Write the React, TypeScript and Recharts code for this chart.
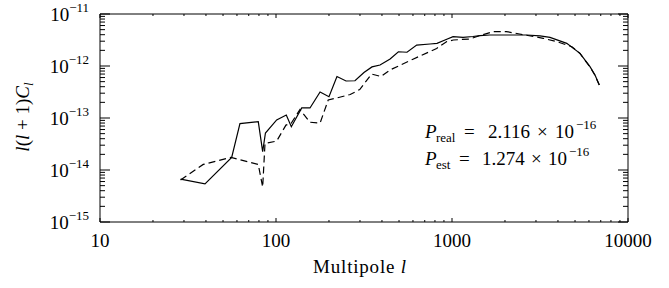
import React from "react";
import { LineChart, Line, XAxis, YAxis } from "recharts";

const solidL = [28.7, 39.5, 56, 62.4, 79.3, 84, 87.1, 100.9, 114.4, 122.2, 140, 156, 178, 200, 222, 250, 281, 316, 351, 390, 445, 496, 555, 630, 750, 822, 912, 1014, 1155, 1315, 1442, 1643, 2137, 2656, 3162, 3605, 4487, 5335, 6081, 6494, 6870];
const solidC = [6.7e-15, 5.4e-15, 1.75e-14, 7.8e-14, 8.5e-14, 2.25e-14, 5.15e-14, 9.2e-14, 1.14e-13, 6.8e-14, 1.56e-13, 1.56e-13, 3.16e-13, 2.57e-13, 6.28e-13, 5.15e-13, 5.2e-13, 7.5e-13, 9.6e-13, 1.045e-12, 1.36e-12, 1.88e-12, 1.84e-12, 2.53e-12, 2.65e-12, 2.73e-12, 3.16e-12, 3.66e-12, 3.56e-12, 3.69e-12, 3.83e-12, 3.95e-12, 3.95e-12, 3.95e-12, 3.78e-12, 3.56e-12, 2.73e-12, 1.75e-12, 9.7e-13, 6.7e-13, 4.3e-13];

const dashedL = [28.7, 38.6, 55.5, 79.3, 84, 86.6, 100.9, 113.9, 122, 136.8, 156, 178, 198, 222, 264, 299, 349, 395, 445, 600, 818, 935, 1018, 1262, 1442, 1720, 2035, 2420, 3300, 3950, 4800, 5335, 6081, 6494, 6870];
const dashedC = [6.4e-15, 1.28e-14, 1.75e-14, 1.28e-14, 4.7e-15, 3.26e-14, 3.6e-14, 7.3e-14, 7.9e-14, 1.46e-13, 8.3e-14, 8.0e-14, 2.22e-13, 2.43e-13, 2.83e-13, 3.53e-13, 7.0e-13, 6.28e-13, 8.4e-13, 1.35e-12, 2.17e-12, 2.96e-12, 3.16e-12, 3.31e-12, 3.86e-12, 4.57e-12, 4.6e-12, 4.12e-12, 3.41e-12, 2.93e-12, 2.35e-12, 1.74e-12, 9.6e-13, 6.6e-13, 4.3e-13];

const xMajor = [10, 100, 1000, 10000];
const yMajorExp = [-15, -14, -13, -12, -11];

const FONT = "'Liberation Serif', 'Times New Roman', serif";

// minor ticks 2..9 in each decade
const xTicks: number[] = [];
xMajor.forEach((m, i) => {
  xTicks.push(m);
  if (i < xMajor.length - 1) for (let k = 2; k <= 9; k++) xTicks.push(m * k);
});
const yTicks: number[] = [];
yMajorExp.forEach((e, i) => {
  yTicks.push(Math.pow(10, e));
  if (i < yMajorExp.length - 1) for (let k = 2; k <= 9; k++) yTicks.push(k * Math.pow(10, e));
});

const isMajor = (v: number) => {
  const lg = Math.log10(v);
  return Math.abs(lg - Math.round(lg)) < 1e-6;
};

const solidData = solidL.map((l, i) => ({ l, c: solidC[i] }));
const dashedData = dashedL.map((l, i) => ({ l, c: dashedC[i] }));

const BottomTick = (props: any) => {
  const { x, y, payload } = props;
  const major = isMajor(payload.value);
  return (
    <g>
      <line x1={x} x2={x} y1={y} y2={y - (major ? 4 : 2)} stroke="#000" />
      {major && (
        <text x={x} y={y + 25} textAnchor="middle" fontFamily={FONT} fontSize={19} fill="#000">
          {payload.value}
        </text>
      )}
    </g>
  );
};

const TopTick = (props: any) => {
  const { x, y, payload } = props;
  const major = isMajor(payload.value);
  return <line x1={x} x2={x} y1={y} y2={y + (major ? 4 : 2)} stroke="#000" />;
};

const LeftTick = (props: any) => {
  const { x, y, payload } = props;
  const major = isMajor(payload.value);
  const e = Math.round(Math.log10(payload.value));
  return (
    <g>
      <line x1={x} x2={x + (major ? 10 : 5)} y1={y} y2={y} stroke="#000" />
      {major && (
        <text x={x - 11} y={y + 7} textAnchor="end" fontFamily={FONT} fontSize={19} fill="#000">
          10
          <tspan dy={-9} fontSize={13}>{"\u2212" + Math.abs(e)}</tspan>
        </text>
      )}
    </g>
  );
};

const RightTick = (props: any) => {
  const { x, y, payload } = props;
  const major = isMajor(payload.value);
  return <line x1={x} x2={x - (major ? 10 : 5)} y1={y} y2={y} stroke="#000" />;
};

export default function App() {
  return (
    <div style={{ position: "absolute", left: 0, top: 0, width: 669, height: 288, background: "#fff" }}>
      <LineChart width={669} height={288} margin={{ top: 13, right: 40, bottom: 36, left: 40 }}>
        <XAxis
          xAxisId="b"
          dataKey="l"
          type="number"
          scale="log"
          domain={[10, 10000]}
          ticks={xTicks}
          interval={0}
          allowDataOverflow
          height={30}
          tickSize={0}
          tickMargin={0}
          tickLine={false}
          tick={<BottomTick />}
          axisLine={{ stroke: "#000" }}
        />
        <XAxis
          xAxisId="t"
          orientation="top"
          dataKey="l"
          type="number"
          scale="log"
          domain={[10, 10000]}
          ticks={xTicks}
          interval={0}
          allowDataOverflow
          height={1}
          tickSize={0}
          tickMargin={0}
          tickLine={false}
          tick={<TopTick />}
          axisLine={{ stroke: "#000" }}
        />
        <YAxis
          yAxisId="l"
          type="number"
          scale="log"
          domain={[1e-15, 1e-11]}
          ticks={yTicks}
          interval={0}
          allowDataOverflow
          width={60}
          tickSize={0}
          tickMargin={0}
          tickLine={false}
          tick={<LeftTick />}
          axisLine={{ stroke: "#000" }}
        />
        <YAxis
          yAxisId="r"
          orientation="right"
          type="number"
          scale="log"
          domain={[1e-15, 1e-11]}
          ticks={yTicks}
          interval={0}
          allowDataOverflow
          width={1}
          tickSize={0}
          tickMargin={0}
          tickLine={false}
          tick={<RightTick />}
          axisLine={{ stroke: "#000" }}
        />
        <Line
          xAxisId="b"
          yAxisId="l"
          data={solidData}
          dataKey="c"
          stroke="#000"
          strokeWidth={1.2}
          dot={false}
          isAnimationActive={false}
          type="linear"
        />
        <Line
          xAxisId="b"
          yAxisId="l"
          data={dashedData}
          dataKey="c"
          stroke="#000"
          strokeWidth={1.2}
          strokeDasharray="7 4"
          dot={false}
          isAnimationActive={false}
          type="linear"
        />
      </LineChart>
      <svg width={669} height={288} style={{ position: "absolute", left: 0, top: 0, pointerEvents: "none" }}>
        <g fontFamily={FONT} fill="#000">
          <text x={360} y={273} textAnchor="middle" fontSize={19} letterSpacing={0.8}>
            Multipole <tspan fontStyle="italic">l</tspan>
          </text>
          <text x={29} y={117} textAnchor="middle" fontSize={19} transform="rotate(-90 29 117)">
            <tspan fontStyle="italic">l</tspan>(<tspan fontStyle="italic">l</tspan> + 1)<tspan fontStyle="italic">C</tspan>
            <tspan fontStyle="italic" fontSize={13} dy={4}>l</tspan>
          </text>
          <text y={137.5} fontSize={19}>
            <tspan x={425} fontStyle="italic">P</tspan>
            <tspan x={436} fontSize={13} dy={4}>real</tspan>
            <tspan x={464} dy={-4}>=</tspan>
            <tspan x={488}>2.116</tspan>
            <tspan x={537}>×</tspan>
            <tspan x={555}>10</tspan>
            <tspan x={576} fontSize={13} dy={-9}>−16</tspan>
          </text>
          <text y={165} fontSize={19}>
            <tspan x={425} fontStyle="italic">P</tspan>
            <tspan x={436} fontSize={13} dy={4}>est</tspan>
            <tspan x={459} dy={-4}>=</tspan>
            <tspan x={482}>1.274</tspan>
            <tspan x={531}>×</tspan>
            <tspan x={548}>10</tspan>
            <tspan x={569} fontSize={13} dy={-9}>−16</tspan>
          </text>
        </g>
      </svg>
    </div>
  );
}
